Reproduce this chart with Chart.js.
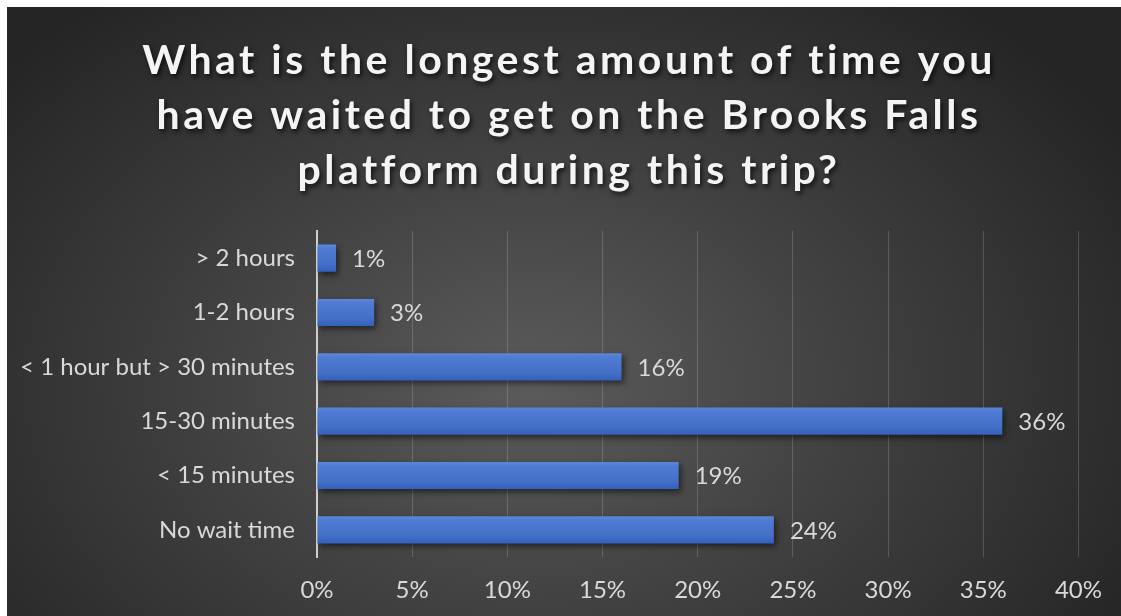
<!DOCTYPE html>
<html>
<head>
<meta charset="utf-8">
<title>Brooks Falls platform wait</title>
<script src="https://cdn.jsdelivr.net/npm/chart.js@4.4.1/dist/chart.umd.min.js"></script>
<style>
    html, body {
        margin: 0;
        padding: 0;
        background: #ffffff;
        overflow: hidden;
    }
    #chartWrap {
        position: absolute;
        left: 7px;
        top: 7px;
        width: 1114px;
        height: 609px;
        background: radial-gradient(ellipse 62% 80% at 47% 62%, #5b5b5b 0%, #3f3f3f 50%, #252525 100%);
    }
</style>
</head>
<body>
<div id="chartWrap">
    <canvas id="waitChart"></canvas>
</div>
<script>
// Survey answers, top to bottom
const categories = ['> 2 hours', '1-2 hours', '< 1 hour but > 30 minutes', '15-30 minutes', '< 15 minutes', 'No wait time'];
const shares = [1, 3, 16, 36, 19, 24];
const xTicks = [0, 5, 10, 15, 20, 25, 30, 35, 40];
const titleLines = [
    'What is the longest amount of time you',
    'have waited to get on the Brooks Falls',
    'platform during this trip?'
];

const LABEL_FONT = 'Lato, "Open Sans", sans-serif';
const LABEL_COLOR = '#d9d9d9';

// Per-bar vertical gradient, light on top and darker at the bottom
function barFill(context) {
    const chart = context.chart;
    if (!chart.chartArea || context.dataIndex === undefined) return '#4472c4';
    const yScale = chart.scales.y;
    const y = yScale.getPixelForValue(context.dataIndex);
    const half = Math.abs(yScale.getPixelForValue(1) - yScale.getPixelForValue(0)) / 4;
    const g = chart.ctx.createLinearGradient(0, y - half, 0, y + half);
    g.addColorStop(0, '#5d87db');
    g.addColorStop(0.15, '#4f7bd3');
    g.addColorStop(0.7, '#4470c8');
    g.addColorStop(1, '#3560bb');
    return g;
}

// Soft shadow under the bars
const barShadow = {
    id: 'barShadow',
    beforeDatasetsDraw(chart) {
        const ctx = chart.ctx;
        ctx.save();
        ctx.shadowColor = 'rgba(0, 0, 0, 0.55)';
        ctx.shadowBlur = 6;
        ctx.shadowOffsetX = 2;
        ctx.shadowOffsetY = 3;
    },
    afterDatasetsDraw(chart) {
        chart.ctx.restore();
    }
};

// Percent labels to the right of each bar
const valueLabels = {
    id: 'valueLabels',
    afterDatasetsDraw(chart) {
        const ctx = chart.ctx;
        const meta = chart.getDatasetMeta(0);
        ctx.save();
        ctx.font = '24px ' + LABEL_FONT;
        ctx.fillStyle = LABEL_COLOR;
        ctx.textAlign = 'left';
        ctx.textBaseline = 'middle';
        meta.data.forEach((bar, i) => {
            ctx.fillText(shares[i] + '%', bar.x + 16, bar.y + 1);
        });
        ctx.restore();
    }
};

// Three line bold title with a drop shadow
const chartTitle = {
    id: 'chartTitle',
    afterDraw(chart) {
        const ctx = chart.ctx;
        ctx.save();
        ctx.font = 'bold 41px ' + LABEL_FONT;
        ctx.letterSpacing = '3.5px';
        ctx.fillStyle = '#f4f4f4';
        ctx.textAlign = 'center';
        ctx.textBaseline = 'alphabetic';
        ctx.shadowColor = 'rgba(0, 0, 0, 0.7)';
        ctx.shadowBlur = 5;
        ctx.shadowOffsetX = 2;
        ctx.shadowOffsetY = 3;
        titleLines.forEach((line, i) => {
            ctx.fillText(line, chart.width / 2 + 5, 67 + i * 55);
        });
        ctx.restore();
    }
};

const ctx = document.getElementById('waitChart');

new Chart(ctx, {
    type: 'bar',
    data: {
        labels: categories,
        datasets: [{
            label: 'Share of respondents',
            data: shares,
            backgroundColor: barFill,
            borderWidth: 0,
            barPercentage: 0.5,
            categoryPercentage: 1
        }]
    },
    options: {
        indexAxis: 'y',
        responsive: true,
        maintainAspectRatio: false,
        animation: false,
        layout: {
            padding: { top: 224, right: 42, left: 0, bottom: 0 }
        },
        plugins: {
            legend: { display: false },
            tooltip: { enabled: false },
            title: { display: false }
        },
        scales: {
            x: {
                min: 0,
                max: 40,
                afterBuildTicks: (scale) => {
                    scale.ticks = xTicks.map(v => ({ value: v }));
                },
                afterFit: (scale) => { scale.height = 59; },
                grid: {
                    color: 'rgba(255, 255, 255, 0.17)',
                    lineWidth: 1,
                    drawTicks: false
                },
                border: { display: false },
                ticks: {
                    color: LABEL_COLOR,
                    padding: 19,
                    font: { family: LABEL_FONT, size: 24 },
                    callback: (v) => v + '%'
                }
            },
            y: {
                afterFit: (scale) => { scale.width = 310; },
                grid: { display: false, drawTicks: false },
                border: { display: true, color: '#cfcfcf', width: 2 },
                ticks: {
                    color: LABEL_COLOR,
                    padding: 22,
                    font: { family: LABEL_FONT, size: 24 }
                }
            }
        }
    },
    plugins: [barShadow, valueLabels, chartTitle]
});
</script>
</body>
</html>
